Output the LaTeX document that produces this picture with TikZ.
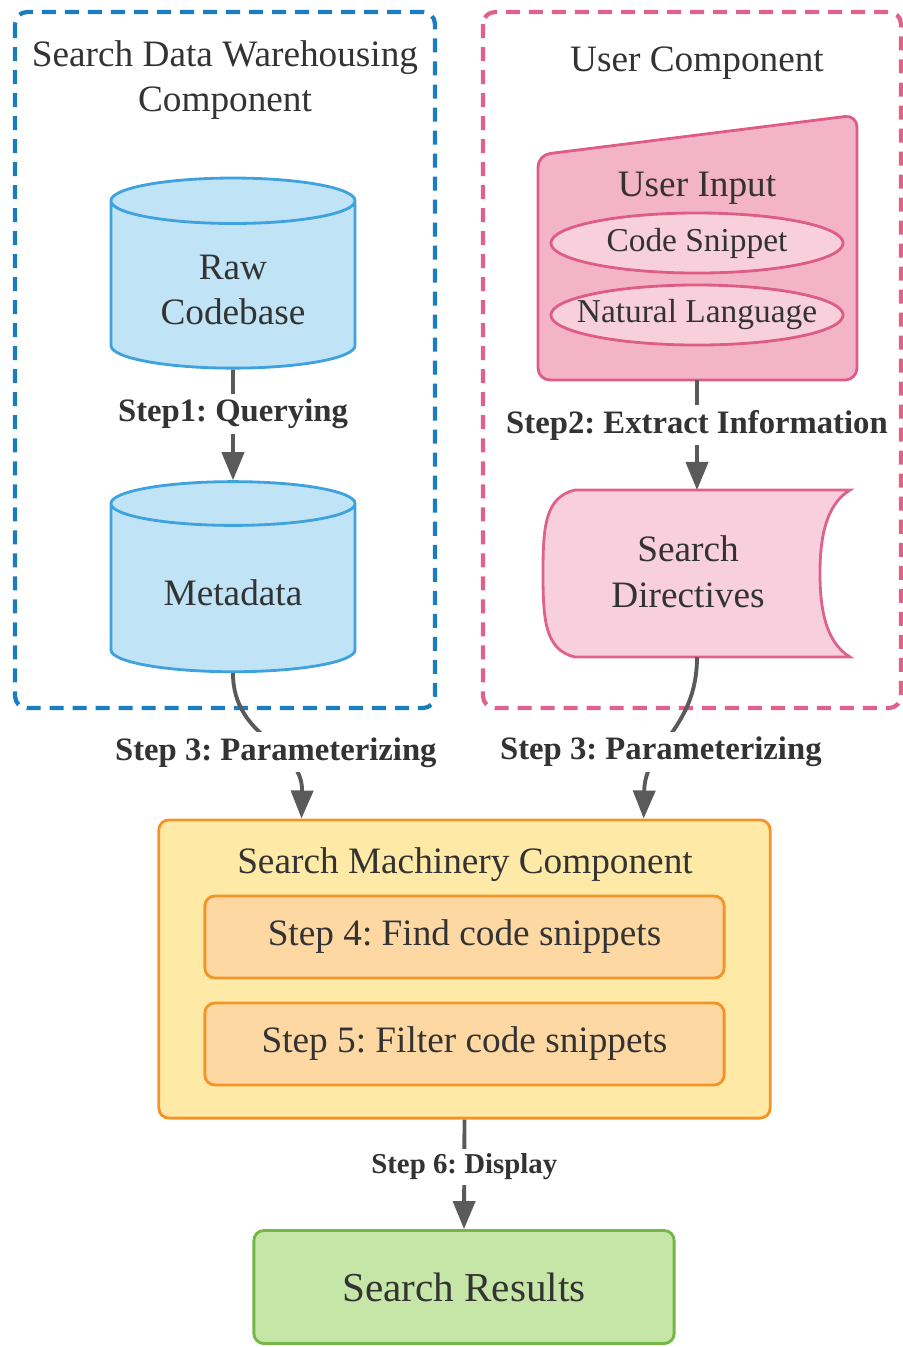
\documentclass[tikz,border=0pt]{standalone}
\usepackage{fontspec}
\setmainfont{Liberation Serif}
\usetikzlibrary{shapes.geometric,arrows.meta}

\definecolor{txtgray}{HTML}{333333}
\definecolor{arrgray}{HTML}{5A5A5A}
\definecolor{warecol}{HTML}{1A7DC0}
\definecolor{dbline}{HTML}{3DA2DD}
\definecolor{dbfill}{HTML}{C0E3F6}
\definecolor{usercol}{HTML}{DF6289}
\definecolor{inline}{HTML}{DE5D87}
\definecolor{infill}{HTML}{F4B4C8}
\definecolor{softpink}{HTML}{F8D0DD}
\definecolor{machline}{HTML}{F29428}
\definecolor{machfill}{HTML}{FFE9A6}
\definecolor{stepfill}{HTML}{FDD8A3}
\definecolor{resline}{HTML}{74B648}
\definecolor{resfill}{HTML}{C5E6A7}

\begin{document}
\frenchspacing
\begin{tikzpicture}[x=0.01cm,y=-0.01cm,
  every node/.style={text=txtgray,align=center,font=\fontsize{10.6}{13}\selectfont},
  group/.style={line width=1.2pt,dash pattern=on 0.14cm off 0.09cm,rounded corners=0.12cm},
  db/.style={cylinder,shape border rotate=90,aspect=0.27,draw=dbline,fill=dbfill,
    line width=0.8pt,minimum width=2.44cm,minimum height=1.9cm},
  ell/.style={ellipse,draw=inline,fill=softpink,line width=0.8pt,inner xsep=-0.2cm,
    inner ysep=0pt,minimum width=2.92cm,minimum height=0.6cm,
    font=\fontsize{9.5}{11}\selectfont},
  stepbox/.style={draw=machline,fill=stepfill,line width=0.8pt,rounded corners=0.1cm,
    minimum width=5.19cm,minimum height=0.82cm},
  arr/.style={draw=arrgray,line width=1.1pt,-{Triangle[width=0.22cm,length=0.28cm]}},
  lbl/.style={fill=white,inner sep=0.05cm,font=\bfseries\fontsize{9.3}{11}\selectfont}]
  \useasboundingbox (0,0) rectangle (903,1347);

  % the two component groups
  \draw[group,draw=warecol] (15,12) rectangle (435,708);
  \node (waretitle) at (225,80) {Search Data Warehousing\\Component};
  \draw[group,draw=usercol] (483,12) rectangle (901,708);
  \node (usertitle) at (697,63) {User Component};

  % warehouse side
  \node[db] (raw) at (233,290) {Raw\\Codebase};
  \node[db] (meta) at (233,593) {Metadata};
  \draw[arr] (raw.south) -- node[lbl,pos=0.4] {Step1: Querying} (meta.north);

  % user side
  \filldraw[draw=inline,fill=infill,line width=0.8pt,rounded corners=0.12cm]
    (538,155) -- (857,115) -- (857,380) -- (538,380) -- cycle;
  \node (userin) at (697,188) {User Input};
  \node[ell] (code) at (697,243) {Code Snippet};
  \node[ell] (natlang) at (697,315) {Natural Language};
  \coordinate (inbot) at (697,380);

  \filldraw[draw=usercol,fill=softpink,line width=0.8pt]
    (575,490) -- (850,490)
    .. controls (825,505) and (820,540) .. (820,573)
    .. controls (820,607) and (825,642) .. (850,657)
    -- (575,657)
    .. controls (545,650) and (543,620) .. (543,573)
    .. controls (543,527) and (545,497) .. (575,490) -- cycle;
  \node (dirs) at (688,572) {Search\\Directives};
  \coordinate (dirtop) at (697,490);
  \coordinate (dirbot) at (697,657);
  \draw[arr] (inbot) -- node[lbl,pos=0.41] {Step2: Extract Information} (dirtop);

  % search machinery
  \node[draw=machline,fill=machfill,line width=0.8pt,rounded corners=0.1cm,
    minimum width=6.11cm,minimum height=2.98cm] (mach) at (464.5,969) {};
  \node (machtitle) at (465,865) {Search Machinery Component};
  \node[stepbox] (find) at (464.5,937) {Step 4: Find code snippets};
  \node[stepbox] (filter) at (464.5,1044) {Step 5: Filter code snippets};

  \draw[arr] (meta.south) .. controls (233,740) and (303,745) ..
    node[lbl,xshift=0.08cm,yshift=-0.09cm] {Step 3: Parameterizing}
    ([xshift=1.44cm]mach.north west);
  \draw[arr] (dirbot) .. controls (697,730) and (645,745) ..
    node[lbl,xshift=-0.1cm,yshift=-0.14cm] {Step 3: Parameterizing}
    ([xshift=4.86cm]mach.north west);

  % results
  \node[draw=resline,fill=resfill,line width=0.8pt,rounded corners=0.1cm,
    minimum width=4.2cm,minimum height=1.13cm,font=\fontsize{11.7}{14}\selectfont]
    (results) at (464,1287) {Search Results};
  \draw[arr] (mach.south) -- node[lbl,pos=0.43,font=\bfseries\fontsize{8.2}{10}\selectfont]
    {Step 6: Display} (results.north);
\end{tikzpicture}
\end{document}
